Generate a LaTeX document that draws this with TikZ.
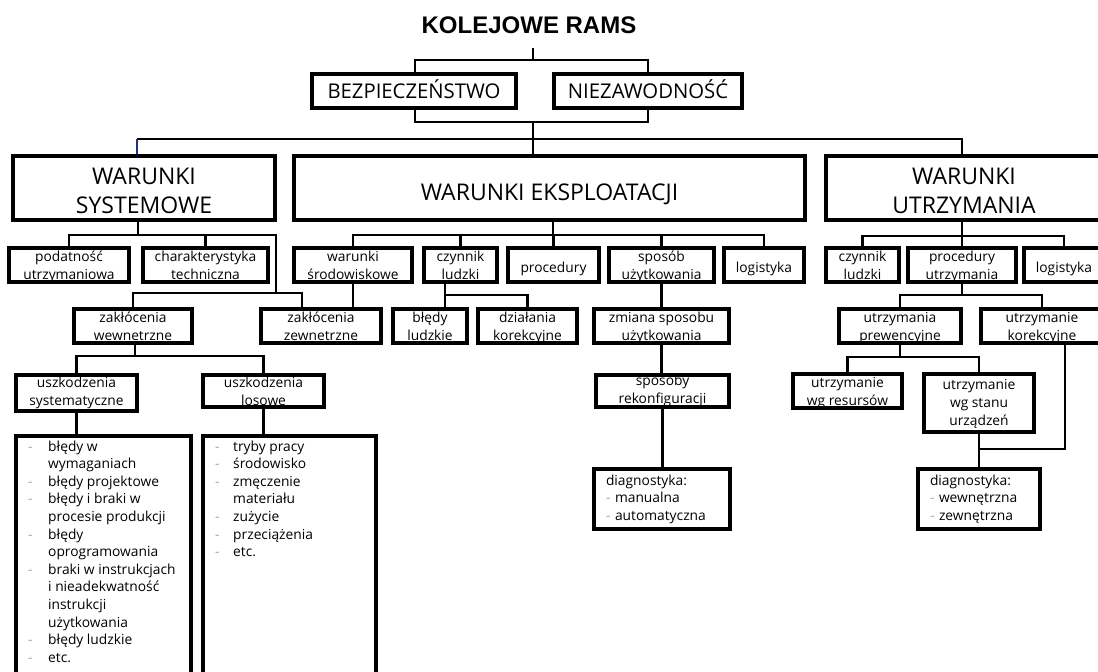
\documentclass[tikz,border=0pt]{standalone}
\usepackage{fontspec}
\setmainfont{Open Sans}
\newfontfamily\titlefont{Liberation Sans}
\usetikzlibrary{backgrounds}
\definecolor{dashgray}{gray}{0.65}
\definecolor{linkblue}{RGB}{30,50,130}
\newcommand{\pkt}[1][20pt]{\makebox[#1][l]{\textcolor{dashgray}{-}}}
\newcommand{\dalej}{\hspace*{20pt}}

\begin{document}
\begin{tikzpicture}[x=1pt,y=-1pt,
  box/.style={draw,line width=3.3pt,fill=white,inner sep=0pt,align=center,
    font=\fontsize{13.8}{17.7}\selectfont,text height=29pt,text depth=0pt},
  one/.style={text height=14pt},
  three/.style={text height=44pt},
  bigbox/.style={box,font=\fontsize{23}{29}\selectfont,text height=50pt},
  topbox/.style={box,font=\fontsize{20.3}{24}\selectfont,text height=14pt},
  diagbox/.style={box,align=left,inner xsep=12pt,minimum height=60,text height=10pt,text depth=38pt},
  listtext/.style={anchor=north west,inner sep=0pt,align=left,font=\fontsize{13.8}{17.6}\selectfont},
  link/.style={line width=2.2pt},
  bracket/.style={line width=1.6pt}]
\useasboundingbox (0,0) rectangle (1098,672);

% tytul
\node[inner sep=0pt,anchor=base,font=\titlefont\bfseries\fontsize{24}{27}\selectfont] (title) at (529,33) {KOLEJOWE RAMS};

% poziom 1
\node[topbox,minimum width=204,minimum height=34] (bez) at (414,91) {BEZPIECZEŃSTWO};
\node[topbox,minimum width=188,minimum height=34] (niez) at (648,91) {NIEZAWODNOŚĆ};
\node[bigbox,minimum width=262,minimum height=64] (sys) at (144,188) {WARUNKI\\SYSTEMOWE};
\node[bigbox,minimum width=511,minimum height=64,text height=24pt] (eks) at (549.5,188) {WARUNKI EKSPLOATACJI};
\node[bigbox,minimum width=276,minimum height=64] (utr) at (964,188) {WARUNKI\\UTRZYMANIA};

% poziom 2
\node[box,minimum width=120,minimum height=34] (pod) at (69,265) {podatność\\utrzymaniowa};
\node[box,minimum width=125,minimum height=34] (char) at (205.5,265) {charakterystyka\\techniczna};
\node[box,minimum width=118,minimum height=34] (sro) at (353,265) {warunki\\środowiskowe};
\node[box,minimum width=73,minimum height=34] (czl) at (460.5,265) {czynnik\\ludzki};
\node[box,one,minimum width=91,minimum height=34] (proc) at (553.5,265) {procedury};
\node[box,minimum width=105,minimum height=34] (spos) at (661.5,265) {sposób\\użytkowania};
\node[box,one,minimum width=80,minimum height=34] (log) at (764,265) {logistyka};
\node[box,minimum width=73,minimum height=34] (czl2) at (862.5,265) {czynnik\\ludzki};
\node[box,minimum width=108,minimum height=34] (procu) at (962,265) {procedury\\utrzymania};
\node[box,one,minimum width=80,minimum height=34] (log2) at (1064,265) {logistyka};

% poziom 3
\node[box,minimum width=118,minimum height=34] (zw) at (133,326) {zakłócenia\\wewnetrzne};
\node[box,minimum width=120,minimum height=34] (zz) at (321,326) {zakłócenia\\zewnetrzne};
\node[box,minimum width=74,minimum height=34] (blud) at (430,326) {błędy\\ludzkie};
\node[box,minimum width=99,minimum height=34] (dz) at (527.5,326) {działania\\korekcyjne};
\node[box,minimum width=135,minimum height=34] (zm) at (661.5,326) {zmiana sposobu\\użytkowania};
\node[box,minimum width=122,minimum height=34] (prew) at (900,326) {utrzymania\\prewencyjne};
\node[box,minimum width=122,minimum height=34] (kor) at (1042,326) {utrzymanie\\korekcyjne};

% poziom 4
\node[box,minimum width=121,minimum height=36,text height=24pt] (usys) at (76.5,393) {uszkodzenia\\systematyczne};
\node[box,minimum width=121,minimum height=32,text height=28pt] (ulos) at (263.5,391) {uszkodzenia\\losowe};
\node[box,minimum width=133,minimum height=32,text height=24pt] (rek) at (662.5,391) {sposoby\\rekonfiguracji};
\node[box,minimum width=109,minimum height=34,text height=28pt] (wgr) at (847.5,391) {utrzymanie\\wg resursów};
\node[box,three,minimum width=110,minimum height=58] (wgs) at (979,403) {utrzymanie\\wg stanu\\urządzeń};

% poziom 5
\node[box,minimum width=175,minimum height=265] (lst1) at (103.5,568.5) {};
\node[box,minimum width=173,minimum height=265] (lst2) at (289.5,568.5) {};
\node[listtext] (lst1txt) at (28,440.5) {\pkt błędy w\\\dalej wymaganiach\\\pkt błędy projektowe\\\pkt błędy i braki w\\\dalej procesie produkcji\\\pkt błędy\\\dalej oprogramowania\\\pkt braki w instrukcjach\\\dalej i nieadekwatność\\\dalej instrukcji\\\dalej użytkowania\\\pkt błędy ludzkie\\\pkt etc.};
\node[listtext] (lst2txt) at (215,440.5) {\pkt[18pt]tryby pracy\\\pkt[18pt]środowisko\\\pkt[18pt]zmęczenie\\\hspace*{18pt}materiału\\\pkt[18pt]zużycie\\\pkt[18pt]przeciążenia\\\pkt[18pt]etc.};
\node[diagbox,text width=112pt] (dg1) at (662,499) {diagnostyka:\\\pkt[9pt]manualna\\\pkt[9pt]automatyczna};
\node[diagbox,text width=98pt] (dg2) at (979,499) {diagnostyka:\\\pkt[9pt]wewnętrzna\\\pkt[9pt]zewnętrzna};

\begin{scope}[on background layer]
% nawias pod tytulem
\coordinate (ts) at (533,48);
\coordinate (brTL) at (415,60);
\coordinate (brTR) at (648,60);
\coordinate (brBR) at (648,122);
\coordinate (brBL) at (415,122);
\draw[bracket] (brTL) -- (brTR) -- (brBR) -- (brBL) -- cycle;
\draw[bracket] (ts) -- (ts |- brTL);
\draw[link] (ts |- brBL) -- (ts |- eks.north);
\coordinate (busL) at (137,139);
\coordinate (busR) at (962,139);
\draw[link] (busL) -- (busR) -- (busR |- utr.north);
\draw[link,linkblue] (busL) -- (busL |- sys.north);

% warunki systemowe
\coordinate (s1) at (138,235);
\coordinate (s1r) at (276,235);
\coordinate (s2r) at (302,293);
\draw[link] (sys.south -| s1) -- (s1);
\draw[link] (pod.north) |- (s1r) -- (s1r |- s2r);
\draw[link] (char.north) -- (char.north |- s1r);
\draw[link] (zw.north) |- (s2r) -- (s2r |- zz.north);
\coordinate (w1) at (135,356);
\draw[link] (zw.south -| w1) -- (w1);
\draw[link] (usys.north) |- (ulos.north |- w1) -- (ulos.north);
\draw[link] (usys.south) -- (usys.south |- lst1.north);
\draw[link] (ulos.south) -- (ulos.south |- lst2.north);

% warunki eksploatacji
\coordinate (e1) at (553,235);
\draw[link] (eks.south -| e1) -- (e1);
\draw[link] (sro.north) |- (log.north |- e1) -- (log.north);
\draw[link] (czl.north) -- (czl.north |- e1);
\draw[link] (proc.north) -- (proc.north |- e1);
\draw[link] (spos.north) -- (spos.north |- e1);
\draw[link] (sro.south) -- (sro.south |- zz.north);
\coordinate (c1) at (445,295);
\draw[link] (czl.south -| c1) -- (c1 |- blud.north);
\draw[link] (c1) -| (dz.north);
\draw[link] (spos.south) -- (zm.north);
\draw[link] (zm.south) -- (zm.south |- rek.north);
\draw[link] (rek.south) -- (rek.south |- dg1.north);

% warunki utrzymania
\coordinate (u1) at (962,236);
\draw[link] (utr.south -| procu.north) -- (procu.north);
\draw[link] (czl2.north) |- (log2.north |- u1) -- (log2.north);
\coordinate (p1) at (962,295);
\draw[link] (procu.south) -- (p1);
\draw[link] (prew.north) |- (kor.north |- p1) -- (kor.north);
\coordinate (r1) at (900,357);
\draw[link] (prew.south) -- (prew.south |- r1);
\draw[link] (wgr.north) |- (wgs.north |- r1) -- (wgs.north);
\draw[link] (wgs.south) -- (dg2.north);
\coordinate (k1) at (1065,449);
\draw[link] (kor.south -| k1) -- (k1) -- (k1 -| dg2.north);
\end{scope}
\end{tikzpicture}
\end{document}
